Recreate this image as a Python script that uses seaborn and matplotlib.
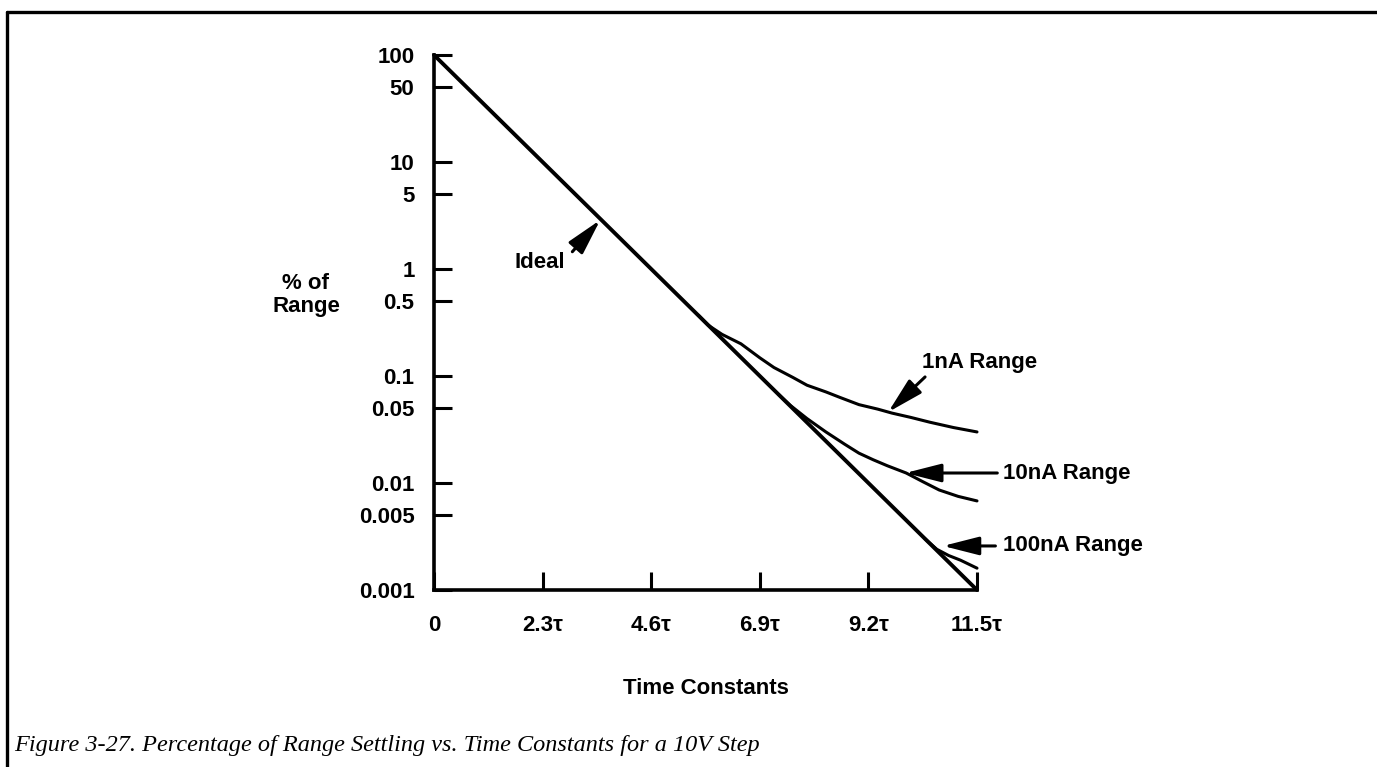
import numpy as np
import pandas as pd
import seaborn as sns
import matplotlib.pyplot as plt
from matplotlib.lines import Line2D

# values (time in time constants, % of range)
ideal_t = [0, 11.5]
ideal_pct = [100, 0.001]

na1_t = [5.6, 5.8, 6.1, 6.5, 6.9, 7.2, 7.6, 7.9, 8.3, 8.6, 9.0, 9.4, 9.7, 10.1, 10.5, 11.0, 11.5]
na1_pct = [0.37, 0.30, 0.245, 0.20, 0.148, 0.12, 0.097, 0.082, 0.071, 0.063, 0.054, 0.049,
           0.045, 0.041, 0.037, 0.033, 0.030]

na10_t = [7.3, 7.55, 7.9, 8.3, 8.7, 9.0, 9.3, 9.6, 10.0, 10.35, 10.7, 11.1, 11.5]
na10_pct = [0.067, 0.053, 0.040, 0.030, 0.023, 0.019, 0.0165, 0.0145, 0.0124, 0.0103,
            0.0086, 0.0075, 0.0068]

na100_t = [10.4, 10.65, 10.9, 11.15, 11.5]
na100_pct = [0.0030, 0.0024, 0.0021, 0.0019, 0.0016]

y_ticks = [100, 50, 10, 5, 1, 0.5, 0.1, 0.05, 0.01, 0.005, 0.001]
y_labels = ['100', '50', '10', '5', '1', '0.5', '0.1', '0.05', '0.01', '0.005', '0.001']
x_ticks = [0, 2.3, 4.6, 6.9, 9.2, 11.5]
x_labels = ['0', '2.3τ', '4.6τ', '6.9τ', '9.2τ', '11.5τ']

df = pd.concat([
    pd.DataFrame({'t': ideal_t, 'pct': ideal_pct, 'curve': 'Ideal'}),
    pd.DataFrame({'t': na1_t, 'pct': na1_pct, 'curve': '1nA'}),
    pd.DataFrame({'t': na10_t, 'pct': na10_pct, 'curve': '10nA'}),
    pd.DataFrame({'t': na100_t, 'pct': na100_pct, 'curve': '100nA'}),
])

sns.set_style('ticks')
plt.rcParams['font.family'] = ['Liberation Sans', 'DejaVu Sans']
plt.rcParams['font.weight'] = 'bold'
plt.rcParams['text.color'] = 'black'
plt.rcParams['axes.labelcolor'] = 'black'
plt.rcParams['axes.labelweight'] = 'bold'

fig = plt.figure(figsize=(13.77, 7.67), dpi=100)
ax = fig.add_axes([434 / 1377, 1 - 590 / 767, (977 - 434) / 1377, (590 - 55) / 767])

ax.set_yscale('log')
for name, lw in [('Ideal', 2.8), ('1nA', 2.2), ('10nA', 2.2), ('100nA', 2.2)]:
    sns.lineplot(data=df[df['curve'] == name], x='t', y='pct', ax=ax,
                 color='black', lw=lw, sort=False, estimator=None, clip_on=False)

ax.set_xlim(0, 11.5)
ax.set_ylim(0.001, 100)
ax.set_xticks(x_ticks)
ax.set_xticklabels(x_labels)
ax.set_yticks(y_ticks)
ax.set_yticklabels(y_labels)
ax.minorticks_off()
ax.tick_params(axis='both', direction='in', length=13, width=2.2, labelsize=16,
               colors='black')
ax.tick_params(axis='x', pad=18)
ax.tick_params(axis='y', pad=14)
sns.despine(ax=ax)
for s in ['left', 'bottom']:
    ax.spines[s].set_linewidth(2.6)
    ax.spines[s].set_color('black')

ax.set_xlabel('Time Constants', fontsize=16, labelpad=30)
ax.set_ylabel('')
fig.text(306 / 1377, 1 - 295 / 767, '% of\nRange', fontsize=16, ha='center', va='center',
         linespacing=1.1)

# arrows and curve labels
arrow = dict(arrowstyle='-|>,head_length=1.1,head_width=0.28', color='black',
             lw=2.2, mutation_scale=20, shrinkA=0, shrinkB=0)
ax.annotate('', xy=(3.52, 2.87), xytext=(2.93, 1.45), arrowprops=arrow, annotation_clip=False)
ax.text(2.25, 1.16, 'Ideal', fontsize=16, ha='center', va='center')

ax.annotate('', xy=(9.62, 0.046), xytext=(10.4, 0.098), arrowprops=arrow, annotation_clip=False)
ax.text(10.34, 0.135, '1nA Range', fontsize=16, ha='left', va='center')

ax.annotate('', xy=(9.98, 0.0124), xytext=(11.93, 0.0124), arrowprops=arrow, annotation_clip=False)
ax.text(12.06, 0.0124, '10nA Range', fontsize=16, ha='left', va='center')

ax.annotate('', xy=(10.78, 0.00258), xytext=(11.89, 0.00258), arrowprops=arrow, annotation_clip=False)
ax.text(12.06, 0.00258, '100nA Range', fontsize=16, ha='left', va='center')

# frame around the figure (top and left edges only) and caption
fig.add_artist(Line2D([7 / 1377, 1], [1 - 12 / 767, 1 - 12 / 767], color='black', lw=2.4))
fig.add_artist(Line2D([7 / 1377, 7 / 1377], [0, 1 - 12 / 767], color='black', lw=2.4))
fig.text(14 / 1377, 1 - 746 / 767,
         'Figure 3-27. Percentage of Range Settling vs. Time Constants for a 10V Step',
         fontsize=17.5, style='italic', weight='normal',
         family=['Liberation Serif', 'DejaVu Serif'], ha='left', va='center')

fig.savefig('out.png', dpi=100, facecolor='white')
